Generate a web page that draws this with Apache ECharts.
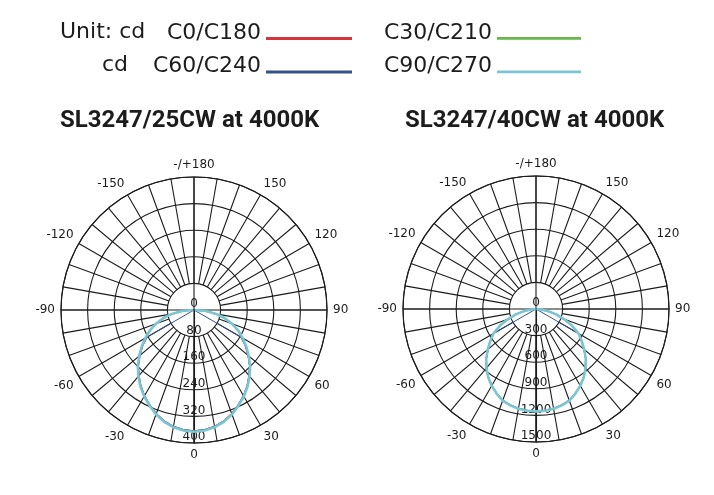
<!DOCTYPE html>
<html>
<head>
<meta charset="utf-8">
<script src="https://cdn.jsdelivr.net/npm/echarts@6/dist/echarts.min.js"></script>
<style>
  html, body { margin: 0; padding: 0; background: #fff; }
  #chart { width: 714px; height: 495px; }
</style>
</head>
<body>
<div id="chart"></div>
<script>
// gamma angles (deg from nadir), same list on both halves of each C-plane pair
var gammas = [0, 5, 10, 15, 20, 25, 30, 35, 40, 45, 50, 55, 60, 65, 70, 75, 80, 85, 90];
var names = ['C0/C180', 'C30/C210', 'C60/C240', 'C90/C270'];
var colors = ['#d6353c', '#6ab74b', '#34508f', '#7cc5d2'];
var widths = [1.5, 1.5, 1, 2.6];

// SL3247/25CW (cd)
var w25_c0  = [364, 362, 356, 346, 332, 315, 298, 279, 258, 237, 213, 190, 167, 146, 121, 95, 67, 36, 6];
var w25_c30 = [365, 363, 357, 347, 333, 316, 299, 280, 259, 238, 214, 191, 168, 147, 121, 95, 67, 37, 8];
var w25_c60 = [363, 361, 355, 345, 331, 314, 297, 278, 257, 236, 212, 188, 162, 0, 0, 0, 0, 0, 0];
var w25_c90 = [366, 364, 358, 348, 334, 317, 300, 281, 260, 239, 215, 192, 169, 148, 122, 96, 68, 35, 3];

// SL3247/40CW (cd)
var w40_c0  = [1152, 1149, 1139, 1122, 1097, 1050, 998, 938, 868, 793, 708, 628, 553, 448, 339, 236, 142, 64, 10];
var w40_c30 = [1153, 1150, 1140, 1123, 1098, 1051, 999, 939, 869, 794, 709, 629, 554, 449, 340, 237, 143, 66, 14];
var w40_c60 = [1150, 1147, 1137, 1120, 1095, 1048, 996, 936, 866, 790, 705, 625, 548, 0, 0, 0, 0, 0, 0];
var w40_c90 = [1155, 1152, 1142, 1125, 1100, 1052, 1000, 940, 870, 795, 710, 630, 555, 450, 340, 235, 140, 60, 5];

var radiusTicks25 = { max: 400, interval: 80 };
var radiusTicks40 = { max: 1500, interval: 300 };

var ink = '#1c1c1c';
var R = 133;
var R0 = 26.6;

// mirror half curve: C180 side on the left (360 - g), C0 side on the right (g)
function curve(vals) {
  var pts = [];
  for (var i = gammas.length - 1; i > 0; i--) pts.push([vals[i], 360 - gammas[i]]);
  for (var j = 0; j < gammas.length; j++) pts.push([vals[j], gammas[j]]);
  return pts;
}

function angleLabel(v) {
  if (v === 360) return '';
  if (v === 180) return '-/+180';
  return String(v > 180 ? v - 360 : v);
}

var polar = [];
var angleAxis = [];
var radiusAxis = [];
var gridLine = { color: ink, width: 1.1 };

function addPolar(center, ticks) {
  var base = polar.length;
  // data polar with rings and labels
  polar.push({ center: center, radius: [0, R] });
  angleAxis.push({
    polarIndex: base, type: 'value', min: 0, max: 360, interval: 30,
    startAngle: -90, clockwise: false,
    axisLine: { show: true, lineStyle: gridLine },
    axisTick: { show: false },
    splitLine: { show: false },
    axisLabel: { margin: 6, color: ink, fontSize: 12, fontFamily: 'DejaVu Sans', formatter: angleLabel }
  });
  radiusAxis.push({
    polarIndex: base, type: 'value', min: 0, max: ticks.max, interval: ticks.interval,
    axisLine: { show: true, lineStyle: gridLine },
    axisTick: { show: false },
    splitLine: { show: true, lineStyle: gridLine },
    axisLabel: { margin: 0, align: 'center', verticalAlign: 'bottom', color: ink, fontSize: 12,
      fontFamily: 'DejaVu Sans', formatter: function (v) { return String(v); } },
    z: 3
  });
  // main cross through the centre
  polar.push({ center: center, radius: [0, R] });
  angleAxis.push({
    polarIndex: base + 1, type: 'value', min: 0, max: 360, interval: 90,
    startAngle: -90, clockwise: false,
    axisLine: { show: false }, axisTick: { show: false }, axisLabel: { show: false },
    splitLine: { show: true, lineStyle: gridLine }
  });
  radiusAxis.push({ polarIndex: base + 1, type: 'value', min: 0, max: 1, show: false });
  // 10 degree spokes, starting at the first ring
  polar.push({ center: center, radius: [R0, R] });
  angleAxis.push({
    polarIndex: base + 2, type: 'value', min: 0, max: 360, interval: 10,
    startAngle: -90, clockwise: false,
    axisLine: { show: false }, axisTick: { show: false }, axisLabel: { show: false },
    splitLine: { show: true, lineStyle: gridLine }
  });
  radiusAxis.push({ polarIndex: base + 2, type: 'value', min: 0, max: 1, show: false });
  return base;
}

var pLeft = addPolar([194, 310], radiusTicks25);
var pRight = addPolar([536, 309], radiusTicks40);

var series = [];
function addSeries(polarIndex, sets) {
  sets.forEach(function (vals, k) {
    series.push({
      name: names[k], type: 'line', coordinateSystem: 'polar', polarIndex: polarIndex,
      symbol: 'none', smooth: false, z: 5 + k,
      itemStyle: { color: colors[k] },
      lineStyle: { color: colors[k], width: widths[k] },
      data: curve(vals)
    });
  });
}
addSeries(pLeft, [w25_c0, w25_c30, w25_c60, w25_c90]);
addSeries(pRight, [w40_c0, w40_c30, w40_c60, w40_c90]);

// legend swatch: a 3px bar sitting at the text baseline
var swatch = 'path://M0 0h86v0h-86zM0 11h86v3h-86z';
var legendText = { color: ink, fontSize: 22, fontFamily: 'DejaVu Sans', lineHeight: 22 };

var chart = echarts.init(document.getElementById('chart'));
chart.setOption({
  animation: false,
  backgroundColor: '#fff',
  title: [
    { text: 'SL3247/25CW at 4000K', left: 60, top: 109, padding: 0,
      textStyle: { color: ink, fontSize: 24, fontWeight: 'bold', fontFamily: 'Roboto' } },
    { text: 'SL3247/40CW at 4000K', left: 405, top: 109, padding: 0,
      textStyle: { color: ink, fontSize: 24, fontWeight: 'bold', fontFamily: 'Roboto' } }
  ],
  legend: [
    { data: ['C0/C180', 'C60/C240'], orient: 'vertical', align: 'right', right: 362, top: 22,
      padding: 0, itemGap: 11.5, itemWidth: 86, itemHeight: 14, icon: swatch, selectedMode: false,
      itemStyle: { borderWidth: 0 }, textStyle: legendText },
    { data: ['C30/C210', 'C90/C270'], orient: 'vertical', align: 'right', right: 133, top: 22,
      padding: 0, itemGap: 11.5, itemWidth: 84, itemHeight: 14, icon: swatch, selectedMode: false,
      itemStyle: { borderWidth: 0 }, textStyle: legendText }
  ],
  graphic: [
    { type: 'text', x: 60, y: 32, style: { text: 'Unit: cd', fill: ink, font: '22px "DejaVu Sans"', verticalAlign: 'middle' } },
    { type: 'text', x: 102, y: 65.5, style: { text: 'cd', fill: ink, font: '22px "DejaVu Sans"', verticalAlign: 'middle' } }
  ],
  polar: polar,
  angleAxis: angleAxis,
  radiusAxis: radiusAxis,
  series: series
});
</script>
</body>
</html>
